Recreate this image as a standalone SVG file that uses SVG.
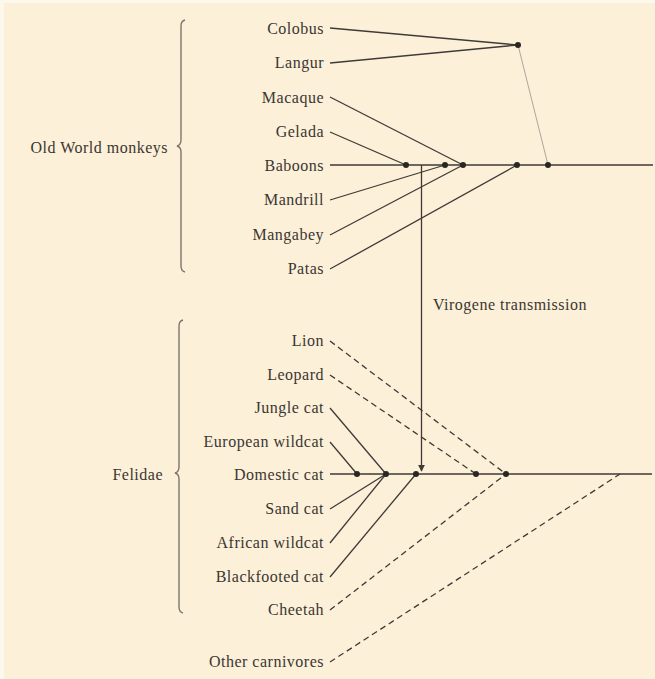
<svg xmlns="http://www.w3.org/2000/svg" width="655" height="679" viewBox="0 0 655 679">
  <style>
    .lbl { font-family: "Liberation Serif", "DejaVu Serif", serif; font-size: 16px; letter-spacing: 0.5px; fill: #3b3631; }
    .end { text-anchor: end; }
    .ln { stroke: #3f3a35; stroke-width: 1.3; fill: none; }
    .thin { stroke: #a59c92; stroke-width: 0.9; fill: none; }
    .dash { stroke: #3f3a35; stroke-width: 1.3; fill: none; stroke-dasharray: 6 4; }
    .br { stroke: #7d766e; stroke-width: 1.4; fill: none; }
    .dot { fill: #2a2622; }
  </style>
  <defs>
    <marker id="arrow" viewBox="0 0 10 10" refX="9" refY="5" markerWidth="7" markerHeight="8" markerUnits="userSpaceOnUse" orient="auto">
      <path d="M0,0 L10,5 L0,10 Z" fill="#3f3a35"/>
    </marker>
  </defs>

  <!-- paper -->
  <rect width="655" height="679" fill="#fcf0d9"/>
  <rect x="0" y="0" width="4" height="679" fill="#fdf8ee"/>
  <rect x="0" y="0" width="655" height="3" fill="#fdf8ee"/>

  <!-- group brackets -->
  <g id="group-old-world-monkeys">
    <path class="br" d="M185,20 Q181,21 181,26 L181,140 Q181,145 177,146 Q181,147 181,152 L181,266 Q181,271 185,272"/>
    <text class="lbl end" x="168" y="153">Old World monkeys</text>
  </g>
  <g id="group-felidae">
    <path class="br" d="M183,320 Q179,321 179,326 L179,467 Q179,472 175,473 Q179,474 179,479 L179,607 Q179,612 183,613"/>
    <text class="lbl end" x="163" y="480">Felidae</text>
  </g>

  <!-- connectors -->
  <g id="connectors">
    <!-- Old World monkeys -->
    <line class="ln" x1="330" y1="28" x2="518" y2="45"/>
    <line class="ln" x1="330" y1="63" x2="518" y2="45"/>
    <line class="thin" x1="518" y1="45" x2="548" y2="165"/>
    <line class="ln" x1="330" y1="97" x2="463" y2="165"/>
    <line class="ln" x1="330" y1="132" x2="406" y2="165"/>
    <line class="ln" x1="330" y1="165" x2="653" y2="165"/>
    <line class="ln" x1="330" y1="200" x2="445" y2="165"/>
    <line class="ln" x1="330" y1="235" x2="463" y2="165"/>
    <line class="ln" x1="330" y1="269" x2="517" y2="165"/>

    <!-- virogene transfer -->
    <line class="ln" x1="421.5" y1="165" x2="421.5" y2="471" marker-end="url(#arrow)"/>

    <!-- Felidae -->
    <line class="dash" x1="330" y1="341" x2="506" y2="474"/>
    <line class="dash" x1="330" y1="375" x2="476" y2="474"/>
    <line class="ln" x1="330" y1="408" x2="386" y2="474"/>
    <line class="ln" x1="330" y1="442" x2="357" y2="474"/>
    <line class="ln" x1="330" y1="474" x2="652" y2="474"/>
    <line class="ln" x1="330" y1="509" x2="386" y2="474"/>
    <line class="ln" x1="330" y1="543" x2="386" y2="474"/>
    <line class="ln" x1="330" y1="577" x2="416" y2="474"/>
    <line class="dash" x1="330" y1="610" x2="506" y2="474"/>
    <line class="dash" x1="330" y1="662" x2="620" y2="474"/>
  </g>

  <!-- branch points -->
  <g id="branch-points">
    <circle class="dot" cx="518" cy="45" r="3"/>
    <circle class="dot" cx="406" cy="165" r="3"/>
    <circle class="dot" cx="445" cy="165" r="3"/>
    <circle class="dot" cx="463" cy="165" r="3"/>
    <circle class="dot" cx="517" cy="165" r="3"/>
    <circle class="dot" cx="548" cy="165" r="3"/>
    <circle class="dot" cx="357" cy="474" r="3"/>
    <circle class="dot" cx="386" cy="474" r="3"/>
    <circle class="dot" cx="416" cy="474" r="3"/>
    <circle class="dot" cx="476" cy="474" r="3"/>
    <circle class="dot" cx="506" cy="474" r="3"/>
  </g>

  <!-- taxa -->
  <g id="colobus"><text class="lbl end" x="324" y="34">Colobus</text></g>
  <g id="langur"><text class="lbl end" x="324" y="68">Langur</text></g>
  <g id="macaque"><text class="lbl end" x="324" y="103">Macaque</text></g>
  <g id="gelada"><text class="lbl end" x="324" y="137">Gelada</text></g>
  <g id="baboons"><text class="lbl end" x="324" y="171">Baboons</text></g>
  <g id="mandrill"><text class="lbl end" x="324" y="205">Mandrill</text></g>
  <g id="mangabey"><text class="lbl end" x="324" y="240">Mangabey</text></g>
  <g id="patas"><text class="lbl end" x="324" y="274">Patas</text></g>

  <g id="lion"><text class="lbl end" x="324" y="346">Lion</text></g>
  <g id="leopard"><text class="lbl end" x="324" y="380">Leopard</text></g>
  <g id="jungle-cat"><text class="lbl end" x="324" y="413">Jungle cat</text></g>
  <g id="european-wildcat"><text class="lbl end" x="324" y="447">European wildcat</text></g>
  <g id="domestic-cat"><text class="lbl end" x="324" y="480">Domestic cat</text></g>
  <g id="sand-cat"><text class="lbl end" x="324" y="514">Sand cat</text></g>
  <g id="african-wildcat"><text class="lbl end" x="324" y="548">African wildcat</text></g>
  <g id="blackfooted-cat"><text class="lbl end" x="324" y="582">Blackfooted cat</text></g>
  <g id="cheetah"><text class="lbl end" x="324" y="615">Cheetah</text></g>
  <g id="other-carnivores"><text class="lbl end" x="324" y="667">Other carnivores</text></g>

  <g id="virogene-label"><text class="lbl" x="433" y="310">Virogene transmission</text></g>
</svg>
